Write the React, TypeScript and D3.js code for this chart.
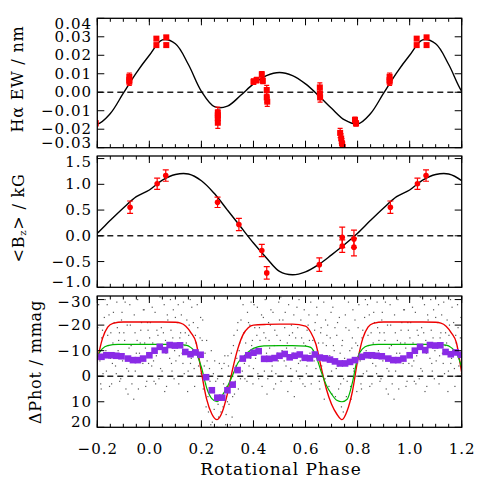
import React from 'react';
import * as d3 from 'd3';

const W = 486;
const H = 486;
const X0 = 97.3;
const X1 = 461.7;

// ---- H-alpha equivalent width ----
const haModelPhase = [0, 0.05, 0.1, 0.15, 0.2, 0.25, 0.3, 0.35, 0.4, 0.45, 0.5, 0.55, 0.6, 0.65, 0.7, 0.75, 0.8, 0.85, 0.9, 0.95];
const haModel = [0.02, 0.0283, 0.0262, 0.015, 0.0005, -0.0078, -0.0075, -0.0018, 0.0045, 0.009, 0.0107, 0.009, 0.0045, -0.0018, -0.0087, -0.015, -0.0172, -0.0115, -0.0005, 0.0105];
const haPhase = [0.923, 0.923, 0.923, 0.027, 0.027, 0.065, 0.065, 0.263, 0.263, 0.263, 0.263, 0.4, 0.412, 0.432, 0.436, 0.451, 0.451, 0.453, 0.655, 0.655, 0.656, 0.733, 0.737, 0.74, 0.743, 0.79, 0.794];
const haEW = [0.0084, 0.0066, 0.0057, 0.029, 0.0255, 0.0297, 0.0255, -0.011, -0.0125, -0.014, -0.0165, 0.0057, 0.0066, 0.0097, 0.0062, 0.0012, -0.0028, -0.0051, 0.0026, -0.0006, -0.0028, -0.022, -0.025, -0.0276, -0.0295, -0.015, -0.0168];
const haErr = [0.002, 0.002, 0.002, 0.001, 0.001, 0.001, 0.001, 0.003, 0.003, 0.003, 0.003, 0.0015, 0.0015, 0.0015, 0.0015, 0.0025, 0.0025, 0.0025, 0.0025, 0.0025, 0.0025, 0.0025, 0.0025, 0.0025, 0.0025, 0.0015, 0.0015];

// ---- longitudinal field ----
const bzModelPhase = [0, 0.05, 0.1, 0.15, 0.2, 0.25, 0.3, 0.35, 0.4, 0.45, 0.5, 0.55, 0.6, 0.65, 0.7, 0.75, 0.8, 0.85, 0.9, 0.95];
const bzModel = [0.89, 1.08, 1.19, 1.2, 1.07, 0.82, 0.5, 0.18, -0.14, -0.43, -0.69, -0.756, -0.7, -0.56, -0.37, -0.17, 0.05, 0.3, 0.54, 0.76];
const bzPhase = [0.926, 0.03, 0.063, 0.262, 0.344, 0.432, 0.451, 0.653, 0.741, 0.741, 0.786, 0.786];
const bzVal = [0.556, 1.01, 1.17, 0.65, 0.22, -0.285, -0.72, -0.56, -0.03, -0.2, -0.06, -0.22];
const bzErr = [0.12, 0.11, 0.11, 0.1, 0.12, 0.12, 0.12, 0.13, 0.2, 0.12, 0.17, 0.17];

// ---- photometry ----
const redPhase = [0, 0.05, 0.1, 0.12, 0.14, 0.16, 0.18, 0.2, 0.22, 0.24, 0.26, 0.28, 0.3, 0.32, 0.34, 0.36, 0.38, 0.4, 0.45, 0.5, 0.55, 0.6, 0.62, 0.64, 0.66, 0.68, 0.7, 0.72, 0.74, 0.76, 0.78, 0.8, 0.82, 0.84, 0.86, 0.9, 0.95];
const redMag = [-21.2, -21.2, -21.1, -20.8, -19.6, -17, -13, -1.5, 9, 14.8, 17, 14, 6.8, -2.8, -10.8, -16.3, -19, -20, -20.3, -20.4, -20.4, -19.6, -17.2, -12.5, -3.5, 5, 11, 14.8, 17, 13.5, 6, -6, -14.8, -19.2, -20.7, -21.2, -21.2];
const greenPhase = [0, 0.05, 0.1, 0.14, 0.16, 0.18, 0.2, 0.22, 0.24, 0.26, 0.28, 0.3, 0.32, 0.34, 0.36, 0.38, 0.4, 0.44, 0.5, 0.55, 0.6, 0.62, 0.64, 0.66, 0.68, 0.7, 0.72, 0.74, 0.76, 0.78, 0.8, 0.82, 0.84, 0.88, 0.95];
const greenMag = [-12.5, -12.5, -12.5, -12.2, -11.2, -9, -3.5, 4.5, 8.8, 10, 7.5, 4, -0.5, -5.2, -7.5, -9.5, -10.9, -11.9, -12, -12, -11.8, -11.3, -8, -1.8, 3.5, 7, 9.4, 10, 9, 2.5, -7.3, -10.8, -12, -12.5, -12.5];
const binPhase = [0.0, 0.02, 0.04, 0.06, 0.078, 0.098, 0.118, 0.138, 0.158, 0.177, 0.197, 0.218, 0.24, 0.261, 0.28, 0.3, 0.32, 0.339, 0.359, 0.38, 0.4, 0.42, 0.441, 0.461, 0.481, 0.5, 0.52, 0.539, 0.558, 0.578, 0.597, 0.617, 0.636, 0.655, 0.675, 0.694, 0.713, 0.732, 0.752, 0.771, 0.79, 0.816, 0.835, 0.854, 0.873, 0.893, 0.918, 0.937, 0.956, 0.976];
const binMag = [-8.2, -10, -11.5, -10.2, -12.2, -12, -12.1, -9.5, -8.6, -9.3, -8.4, 0.4, 5.5, 8.4, 8.4, 5.5, 3.3, -2.4, -6.9, -8.2, -9.2, -9.8, -6.8, -6.8, -7.1, -8, -8.7, -7.4, -8, -8.5, -7.2, -7, -8.5, -7.3, -7, -6.5, -5.8, -5, -5, -5.6, -6.3, -7.6, -8.2, -8.2, -8, -7.8, -6.9, -6.3, -6.3, -6.9];
const rawPhase = [
  0.004, 0.009, 0.013, 0.018, 0.022, 0.027, 0.033, 0.037, 0.043, 0.046, 0.052, 0.057, 0.062, 0.066, 0.071, 0.078, 0.083, 0.087, 0.092, 0.097,
  0.102, 0.108, 0.113, 0.117, 0.123, 0.126, 0.134, 0.138, 0.142, 0.147, 0.153, 0.158, 0.163, 0.166, 0.172, 0.177, 0.182, 0.186, 0.193, 0.197,
  0.203, 0.207, 0.214, 0.218, 0.222, 0.227, 0.233, 0.238, 0.242, 0.246, 0.253, 0.257, 0.262, 0.266, 0.273, 0.278, 0.283, 0.287, 0.293, 0.298,
  0.302, 0.306, 0.313, 0.318, 0.323, 0.327, 0.333, 0.338, 0.342, 0.347, 0.352, 0.357, 0.363, 0.367, 0.373, 0.377, 0.383, 0.386, 0.393, 0.398,
  0.402, 0.408, 0.413, 0.417, 0.423, 0.427, 0.433, 0.438, 0.442, 0.447, 0.452, 0.458, 0.462, 0.467, 0.472, 0.478, 0.482, 0.486, 0.493, 0.497,
  0.503, 0.506, 0.513, 0.518, 0.522, 0.527, 0.532, 0.538, 0.543, 0.546, 0.553, 0.557, 0.562, 0.567, 0.573, 0.578, 0.582, 0.587, 0.593, 0.598,
  0.603, 0.606, 0.613, 0.617, 0.622, 0.628, 0.633, 0.637, 0.643, 0.646, 0.653, 0.658, 0.662, 0.667, 0.672, 0.677, 0.682, 0.686, 0.693, 0.698,
  0.702, 0.707, 0.713, 0.718, 0.723, 0.727, 0.733, 0.738, 0.742, 0.746, 0.753, 0.757, 0.762, 0.767, 0.773, 0.778, 0.782, 0.786, 0.793, 0.797,
  0.802, 0.808, 0.813, 0.817, 0.822, 0.827, 0.833, 0.838, 0.842, 0.847, 0.852, 0.858, 0.862, 0.867, 0.873, 0.877, 0.882, 0.886, 0.893, 0.897,
  0.902, 0.907, 0.913, 0.918, 0.922, 0.927, 0.933, 0.938, 0.942, 0.946, 0.953, 0.958, 0.962, 0.967, 0.973, 0.977, 0.982, 0.986, 0.993, 0.997,
  0.001, 0.011, 0.016, 0.024, 0.029, 0.035, 0.041, 0.049, 0.054, 0.059, 0.064, 0.069, 0.075, 0.081, 0.085, 0.09, 0.095, 0.1, 0.106, 0.111,
  0.115, 0.12, 0.129, 0.131, 0.137, 0.144, 0.149, 0.151, 0.157, 0.161, 0.169, 0.174, 0.179, 0.184, 0.189, 0.195, 0.199, 0.205, 0.211, 0.216,
  0.22, 0.225, 0.231, 0.236, 0.24, 0.249, 0.251, 0.255, 0.26, 0.264, 0.269, 0.275, 0.28, 0.285, 0.29, 0.295, 0.3, 0.304, 0.311, 0.315,
  0.32, 0.325, 0.33, 0.336, 0.34, 0.345, 0.35, 0.355, 0.36, 0.365, 0.37, 0.375, 0.381, 0.388, 0.391, 0.396, 0.4, 0.405, 0.411, 0.415,
  0.42, 0.425, 0.431, 0.436, 0.44, 0.445, 0.45, 0.455, 0.46, 0.465, 0.47, 0.475, 0.48, 0.485, 0.49, 0.495, 0.5, 0.505, 0.51, 0.515,
  0.52, 0.525, 0.53, 0.535, 0.541, 0.545, 0.55, 0.555, 0.56, 0.565, 0.57, 0.575, 0.58, 0.585, 0.59, 0.595, 0.6, 0.605, 0.61, 0.615,
  0.62, 0.625, 0.63, 0.635, 0.64, 0.645, 0.65, 0.655, 0.66, 0.665, 0.67, 0.675, 0.68, 0.685, 0.69, 0.695, 0.7, 0.705, 0.71, 0.715,
  0.72, 0.725, 0.73, 0.735, 0.74, 0.745, 0.75, 0.755, 0.76, 0.765, 0.77, 0.775, 0.78, 0.785, 0.79, 0.795, 0.8, 0.805, 0.81, 0.815,
  0.82, 0.825, 0.83, 0.835, 0.84, 0.845, 0.85, 0.855, 0.86, 0.865, 0.87, 0.875, 0.88, 0.885, 0.89, 0.895, 0.9, 0.905, 0.91, 0.915,
  0.92, 0.925, 0.93, 0.935, 0.94, 0.945, 0.95, 0.955, 0.96, 0.965, 0.97, 0.975, 0.98, 0.985, 0.99, 0.995,
];
const rawMag = [
  -21, -4, -13, 2, -25, -8, -16, 1, -3, -19, -11, -28, -14, 4, -22, -7, -18, -2, -26, -10,
  -6, -21, 3, -15, -24, -9, -1, -17, -13, 6, -20, -5, -27, -10, -3, -16, 0, -19, -8, -23,
  -14, 5, -9, 12, -6, 14, 2, -10, 18, -1, 9, 22, 1, 16, 24, -3, 12, -5, 19, 4,
  -8, 11, 0, 16, -12, 7, -4, -18, 5, -13, -22, -2, -17, 1, -9, -25, -4, -20, -12, 3,
  -28, -7, -16, -1, -19, -10, 4, -23, -2, -15, 7, -21, -11, -26, -4, 5, -18, -1, -9, -29,
  -14, 2, -22, -6, -25, -11, 6, -16, -3, -20, -9, 8, -15, -27, -5, 1, -22, -8, -13, 4,
  -1, -18, -24, -9, 3, -14, -6, -21, -27, -10, 2, -17, -4, -13, 9, -22, -16, 0, -8, -25,
  7, -12, -19, -3, -21, 5, -9, 12, -14, 1, -24, 8, -6, -18, 4, -11, -26, -2, -13, 6,
  -19, -7, 3, -15, -1, -23, -10, -28, -12, 4, -17, -5, -25, -9, -1, -19, -14, 2, -22, -6,
  -17, -29, -3, 7, -11, -20, 3, -7, -24, -2, -14, 5, -9, -18, 0, -26, -13, 4, -21, -5,
  -15, -27, -6, 3, -18, -12, -31, -2, -17, 6, -9, -24, -13, -30, -5, -15, 1, -23, -12, -28,
  -8, -17, -5, -29, -12, -22, -2, -16, -30, -7, -21, 4, -13, -28, -4, -15, -1, -22, -4, 3,
  -14, 8, -3, 19, 5, 13, -6, 2, 20, 11, -5, 14, 21, 3, -8, 15, 10, -4, 19, -9,
  8, -16, 2, -7, -21, -10, 1, -15, -28, -5, -13, 2, -21, -7, -29, -14, -3, -19, -11, -27,
  1, -14, -24, -6, -17, -30, -9, 1, -14, -20, -2, -25, -12, 3, -16, -6, -22, -31, -10, 0,
  -19, -4, -13, -28, -8, 2, -17, -24, -11, -2, -19, -30, -6, -15, 3, -26, -12, -4, -20, -14,
  -29, 0, -10, -18, -3, -24, -13, 5, -19, -8, -29, 1, -12, -20, 4, -15, -2, -27, -10, 8,
  -16, -4, -23, 3, -12, 14, -7, -19, 2, -29, -10, 9, -15, -3, -22, 0, -12, -28, -6, 5,
  -18, -9, -30, -2, -16, -24, -7, 3, -13, -21, -4, -29, -10, -17, 1, -25, -8, -14, 5, -20,
  -2, -28, -12, -6, 9, -17, -9, -30, 0, -13, -21, -5, -26, -11, 2, -18,
];

const xTicks = d3.ticks(-0.2, 1.2, 7);
const xMinor = d3.ticks(-0.2, 1.2, 28);

const x = d3.scaleLinear().domain([-0.2, 1.2]).range([X0, X1]);

// repeat one rotation over the plotted phase range
function cycle(ps: number[], vs: number[], lo = -0.35, hi = 1.35) {
  const out: { p: number; v: number; i: number }[] = [];
  for (const k of [-1, 0, 1]) {
    ps.forEach((p, i) => {
      const q = p + k;
      if (q >= lo && q <= hi) out.push({ p: q, v: vs[i], i });
    });
  }
  return out.sort((a, b) => a.p - b.p);
}

const panels = [
  { id: 'ha', top: 18.3, bottom: 147.7, domain: [-0.03, 0.04], ticks: d3.ticks(-0.03, 0.04, 7), fmt: d3.format('.2f') },
  { id: 'bz', top: 156, bottom: 287.3, domain: [-1.0, 1.55], ticks: [-1, -0.5, 0, 0.5, 1, 1.5], fmt: d3.format('.1f') },
  { id: 'ph', top: 296, bottom: 427.3, domain: [20, -31.4], ticks: [20, 10, 0, -10, -20, -30], fmt: d3.format('d') },
];

const FONT = 'DejaVu Serif';

function Frame({ top, bottom, ticks, fmt, y, showX }: any) {
  return (
    <g>
      {xMinor.map((t) => (
        <g key={'m' + t}>
          <line x1={x(t)} x2={x(t)} y1={bottom} y2={bottom - 3.5} stroke="#000" strokeWidth={1} />
          <line x1={x(t)} x2={x(t)} y1={top} y2={top + 3.5} stroke="#000" strokeWidth={1} />
        </g>
      ))}
      {xTicks.map((t) => (
        <g key={'M' + t}>
          <line x1={x(t)} x2={x(t)} y1={bottom} y2={bottom - 7} stroke="#000" strokeWidth={1} />
          <line x1={x(t)} x2={x(t)} y1={top} y2={top + 7} stroke="#000" strokeWidth={1} />
        </g>
      ))}
      {ticks.map((t: number) => (
        <g key={'y' + t}>
          <line x1={X0} x2={X0 + 7} y1={y(t)} y2={y(t)} stroke="#000" strokeWidth={1} />
          <line x1={X1} x2={X1 - 7} y1={y(t)} y2={y(t)} stroke="#000" strokeWidth={1} />
          <text
            x={92}
            y={Math.min(Math.max(y(t), top + 6), bottom - 5)}
            textAnchor="end"
            dominantBaseline="central"
            fontFamily={FONT}
            fontSize={15}
            letterSpacing={1}
          >
            {fmt(t)}
          </text>
        </g>
      ))}
      {showX &&
        xTicks.map((t) => (
          <text key={'xl' + t} x={x(t) + 0.5} y={453.5} textAnchor="middle" fontFamily={FONT} fontSize={15} letterSpacing={1}>
            {d3.format('.1f')(t)}
          </text>
        ))}
      <rect x={X0} y={top} width={X1 - X0} height={bottom - top} fill="none" stroke="#000" strokeWidth={1.3} />
    </g>
  );
}

export default function App() {
  const [pHa, pBz, pPh] = panels;
  const yHa = d3.scaleLinear().domain(pHa.domain).range([pHa.bottom, pHa.top]);
  const yBz = d3.scaleLinear().domain(pBz.domain).range([pBz.bottom, pBz.top]);
  const yPh = d3.scaleLinear().domain(pPh.domain).range([pPh.bottom, pPh.top]);

  const smooth = (y: any) =>
    d3.line<{ p: number; v: number }>().x((d) => x(d.p)).y((d) => y(d.v)).curve(d3.curveCatmullRom.alpha(0.5));
  const mono = (y: any) =>
    d3.line<{ p: number; v: number }>().x((d) => x(d.p)).y((d) => y(d.v)).curve(d3.curveMonotoneX);

  const haPts = cycle(haPhase, haEW, -0.25, 1.25);
  const bzPts = cycle(bzPhase, bzVal, -0.25, 1.25);
  const binPts = cycle(binPhase, binMag, -0.25, 1.25);
  const rawPts = cycle(rawPhase, rawMag, -0.21, 1.21);

  const zero = (y: any) => (
    <line x1={X0} x2={X1} y1={y(0)} y2={y(0)} stroke="#222" strokeWidth={1.4} strokeDasharray="6,4" />
  );

  return (
    <svg width={W} height={H} style={{ position: 'absolute', left: 0, top: 0, background: '#fff' }}>
      <defs>
        {panels.map((p) => (
          <clipPath id={'clip-' + p.id} key={p.id}>
            <rect x={X0} y={p.top} width={X1 - X0} height={p.bottom - p.top} />
          </clipPath>
        ))}
      </defs>

      {/* H-alpha panel */}
      <g clipPath="url(#clip-ha)">
        {zero(yHa)}
        <path d={smooth(yHa)(cycle(haModelPhase, haModel)) || ''} fill="none" stroke="#000" strokeWidth={1.4} />
        {haPts.map((d, k) => (
          <g key={k} stroke="#ff0000" strokeWidth={1.2}>
            <line x1={x(d.p)} x2={x(d.p)} y1={yHa(d.v - haErr[d.i])} y2={yHa(d.v + haErr[d.i])} />
            <line x1={x(d.p) - 2.5} x2={x(d.p) + 2.5} y1={yHa(d.v - haErr[d.i])} y2={yHa(d.v - haErr[d.i])} />
            <line x1={x(d.p) - 2.5} x2={x(d.p) + 2.5} y1={yHa(d.v + haErr[d.i])} y2={yHa(d.v + haErr[d.i])} />
            <rect x={x(d.p) - 3} y={yHa(d.v) - 3} width={6} height={6} fill="#ff0000" stroke="none" />
          </g>
        ))}
      </g>
      <Frame top={pHa.top} bottom={pHa.bottom} ticks={pHa.ticks} fmt={pHa.fmt} y={yHa} showX={false} />

      {/* Bz panel */}
      <g clipPath="url(#clip-bz)">
        {zero(yBz)}
        <path d={smooth(yBz)(cycle(bzModelPhase, bzModel)) || ''} fill="none" stroke="#000" strokeWidth={1.4} />
        {bzPts.map((d, k) => (
          <g key={k} stroke="#ff0000" strokeWidth={1.2}>
            <line x1={x(d.p)} x2={x(d.p)} y1={yBz(d.v - bzErr[d.i])} y2={yBz(d.v + bzErr[d.i])} />
            <line x1={x(d.p) - 3} x2={x(d.p) + 3} y1={yBz(d.v - bzErr[d.i])} y2={yBz(d.v - bzErr[d.i])} />
            <line x1={x(d.p) - 3} x2={x(d.p) + 3} y1={yBz(d.v + bzErr[d.i])} y2={yBz(d.v + bzErr[d.i])} />
            <circle cx={x(d.p)} cy={yBz(d.v)} r={2.8} fill="#ff0000" stroke="none" />
          </g>
        ))}
      </g>
      <Frame top={pBz.top} bottom={pBz.bottom} ticks={pBz.ticks} fmt={pBz.fmt} y={yBz} showX={false} />

      {/* photometry panel */}
      <g clipPath="url(#clip-ph)">
        {rawPts.map((d, k) => (
          <rect key={k} x={x(d.p) - 0.6} y={yPh(d.v) - 0.6} width={1.2} height={1.2} fill="#555" />
        ))}
        {zero(yPh)}
        <path d={mono(yPh)(cycle(redPhase, redMag)) || ''} fill="none" stroke="#ee0000" strokeWidth={1.4} />
        <path d={mono(yPh)(cycle(greenPhase, greenMag)) || ''} fill="none" stroke="#00b400" strokeWidth={1.2} />
        {binPts.map((d, k) => (
          <rect key={k} x={x(d.p) - 3.3} y={yPh(d.v) - 3.3} width={6.6} height={6.6} fill="#8a2be6" />
        ))}
      </g>
      <Frame top={pPh.top} bottom={pPh.bottom} ticks={pPh.ticks} fmt={pPh.fmt} y={yPh} showX={true} />

      {/* axis titles */}
      <text x={281} y={475} textAnchor="middle" fontFamily={FONT} fontSize={17} letterSpacing={1}>
        Rotational Phase
      </text>
      <text transform="translate(17,79) rotate(-90)" textAnchor="middle" dominantBaseline="central" fontFamily={FONT} fontSize={16} letterSpacing={0.8}>
        Hα EW / nm
      </text>
      <text transform="translate(18,218) rotate(-90)" textAnchor="middle" dominantBaseline="central" fontFamily={FONT} fontSize={16} letterSpacing={0.8}>
        {'<B'}
        <tspan fontSize={10} dy={4}>z</tspan>
        <tspan dy={-4}>{'> / kG'}</tspan>
      </text>
      <text transform="translate(35,362) rotate(-90)" textAnchor="middle" dominantBaseline="central" fontFamily={FONT} fontSize={16} letterSpacing={0.8}>
        ΔPhot / mmag
      </text>
    </svg>
  );
}
